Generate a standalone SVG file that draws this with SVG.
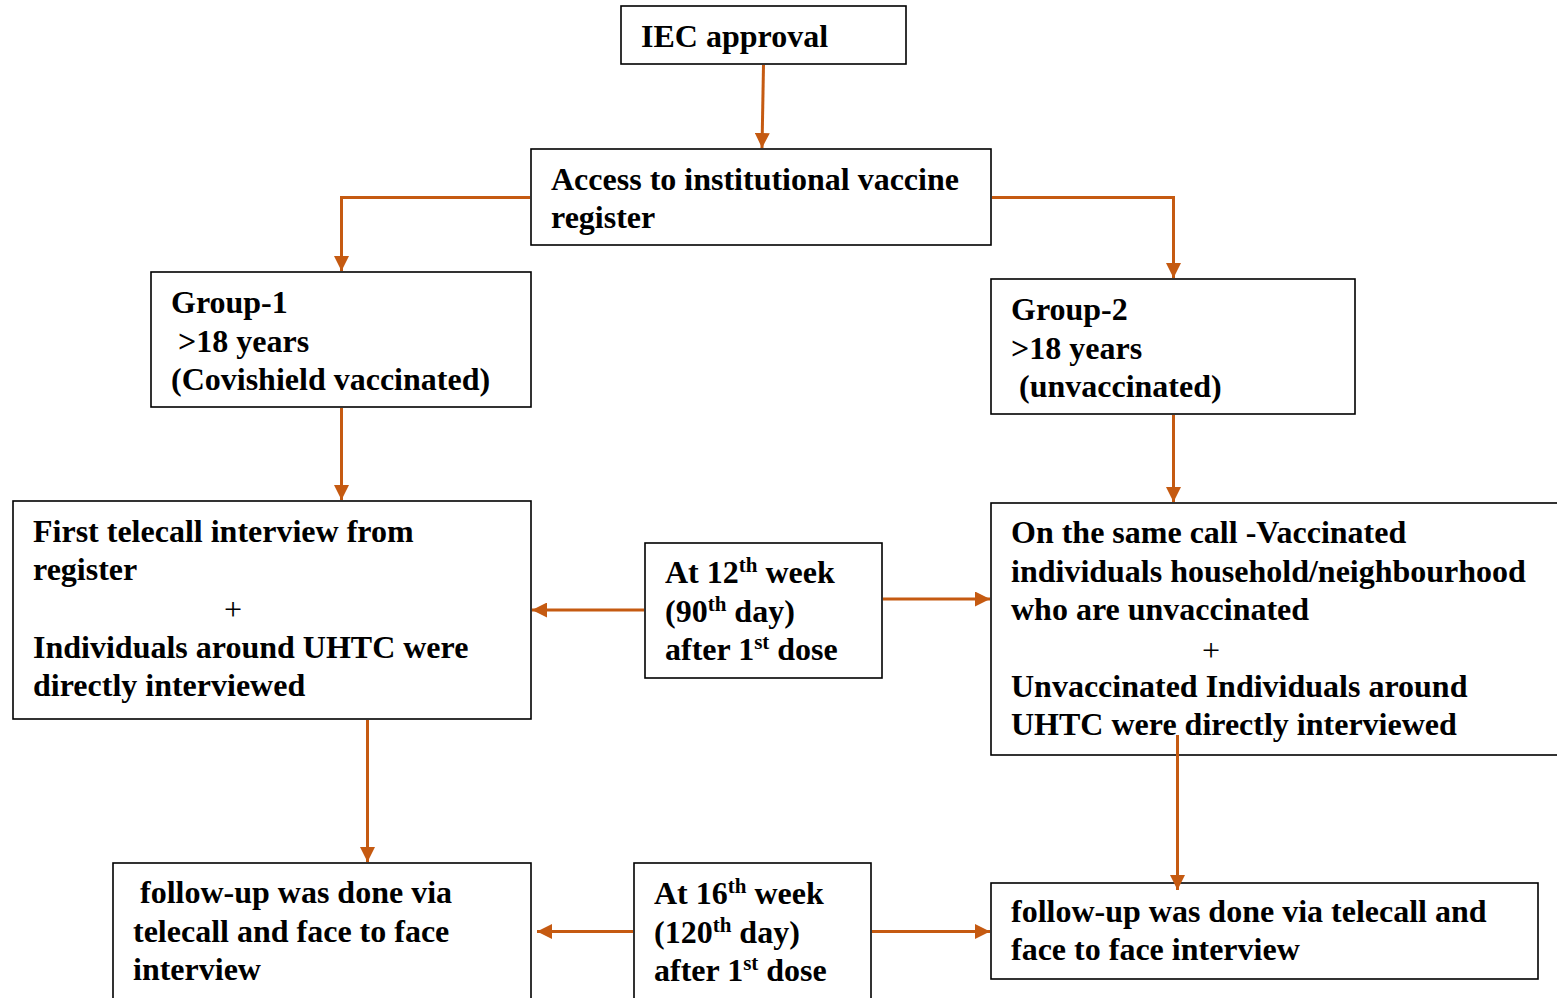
<svg xmlns="http://www.w3.org/2000/svg" width="1557" height="998" viewBox="0 0 1557 998">
<style>
.box{fill:#fff;stroke:#000;stroke-width:1.6}
.t{font-family:"Liberation Serif","Times New Roman",serif;font-weight:bold;font-size:32px;fill:#000}
.plus{font-family:"Liberation Serif","Times New Roman",serif;font-weight:normal;font-size:32px;fill:#000;text-anchor:middle}
.sup{font-size:21px}
.c{fill:none;stroke:#C55A11;stroke-width:3}
</style>
<defs>
<marker id="ah" markerUnits="userSpaceOnUse" markerWidth="15" markerHeight="15" refX="15" refY="7.5" orient="auto">
<path d="M0,0 L15,7.5 L0,15 z" fill="#C55A11"/>
</marker>
</defs>
<rect width="1557" height="998" fill="#fff"/>
<g id="iec">
<rect class="box" x="621" y="6" width="285" height="58"/>
<text class="t" x="641" y="47">IEC approval</text>
</g>
<g id="access">
<rect class="box" x="531" y="149" width="460" height="96"/>
<text class="t" x="551" y="190">Access to institutional vaccine</text>
<text class="t" x="551" y="228">register</text>
</g>
<g id="group1">
<rect class="box" x="151" y="272" width="380" height="135"/>
<text class="t" x="171" y="313">Group-1</text>
<text class="t" x="178" y="352">&gt;18 years</text>
<text class="t" x="171" y="390">(Covishield vaccinated)</text>
</g>
<g id="group2">
<rect class="box" x="991" y="279" width="364" height="135"/>
<text class="t" x="1011" y="320">Group-2</text>
<text class="t" x="1011" y="359">&gt;18 years</text>
<text class="t" x="1019" y="397">(unvaccinated)</text>
</g>
<g id="first-telecall">
<rect class="box" x="13" y="501" width="518" height="218"/>
<text class="t" x="33" y="542">First telecall interview from</text>
<text class="t" x="33" y="580">register</text>
<text class="plus" x="233" y="620">+</text>
<text class="t" x="33" y="658">Individuals around UHTC were</text>
<text class="t" x="33" y="696">directly interviewed</text>
</g>
<g id="week12">
<rect class="box" x="645" y="543" width="237" height="135"/>
<text class="t" x="665" y="583">At 12<tspan class="sup" dy="-11">th</tspan><tspan dy="11"> week</tspan></text>
<text class="t" x="665" y="622">(90<tspan class="sup" dy="-11">th</tspan><tspan dy="11"> day)</tspan></text>
<text class="t" x="665" y="660">after 1<tspan class="sup" dy="-11">st</tspan><tspan dy="11"> dose</tspan></text>
</g>
<g id="same-call">
<rect class="box" x="991" y="503" width="580" height="252"/>
<text class="t" x="1011" y="543">On the same call -Vaccinated</text>
<text class="t" x="1011" y="582">individuals household/neighbourhood</text>
<text class="t" x="1011" y="620">who are unvaccinated</text>
<text class="plus" x="1211" y="661">+</text>
<text class="t" x="1011" y="697">Unvaccinated Individuals around</text>
<text class="t" x="1011" y="735">UHTC were directly interviewed</text>
</g>
<g id="followup-left">
<rect class="box" x="113" y="863" width="418" height="150"/>
<text class="t" x="140" y="903">follow-up was done via</text>
<text class="t" x="133" y="942">telecall and face to face</text>
<text class="t" x="133" y="980">interview</text>
</g>
<g id="week16">
<rect class="box" x="634" y="863" width="237" height="150"/>
<text class="t" x="654" y="904">At 16<tspan class="sup" dy="-11">th</tspan><tspan dy="11"> week</tspan></text>
<text class="t" x="654" y="943">(120<tspan class="sup" dy="-11">th</tspan><tspan dy="11"> day)</tspan></text>
<text class="t" x="654" y="981">after 1<tspan class="sup" dy="-11">st</tspan><tspan dy="11"> dose</tspan></text>
</g>
<g id="followup-right">
<rect class="box" x="991" y="883" width="547" height="96"/>
<text class="t" x="1011" y="922">follow-up was done via telecall and</text>
<text class="t" x="1011" y="960">face to face interview</text>
</g>
<g id="connectors">
<path class="c" d="M763.5,65 L762,148" marker-end="url(#ah)"/>
<path class="c" d="M530,197.5 L341.5,197.5 L341.5,271" marker-end="url(#ah)"/>
<path class="c" d="M992,197.5 L1173.5,197.5 L1173.5,278" marker-end="url(#ah)"/>
<path class="c" d="M341.5,408 L341.5,500" marker-end="url(#ah)"/>
<path class="c" d="M1173.5,415 L1173.5,502" marker-end="url(#ah)"/>
<path class="c" d="M644,610 L532,610" marker-end="url(#ah)"/>
<path class="c" d="M883,599 L990,599" marker-end="url(#ah)"/>
<path class="c" d="M367.5,720 L367.5,862" marker-end="url(#ah)"/>
<path class="c" d="M1177.5,735 L1177.5,890" marker-end="url(#ah)"/>
<path class="c" d="M633,931.5 L537,931.5" marker-end="url(#ah)"/>
<path class="c" d="M872,931.5 L990,931.5" marker-end="url(#ah)"/>
</g>
</svg>
